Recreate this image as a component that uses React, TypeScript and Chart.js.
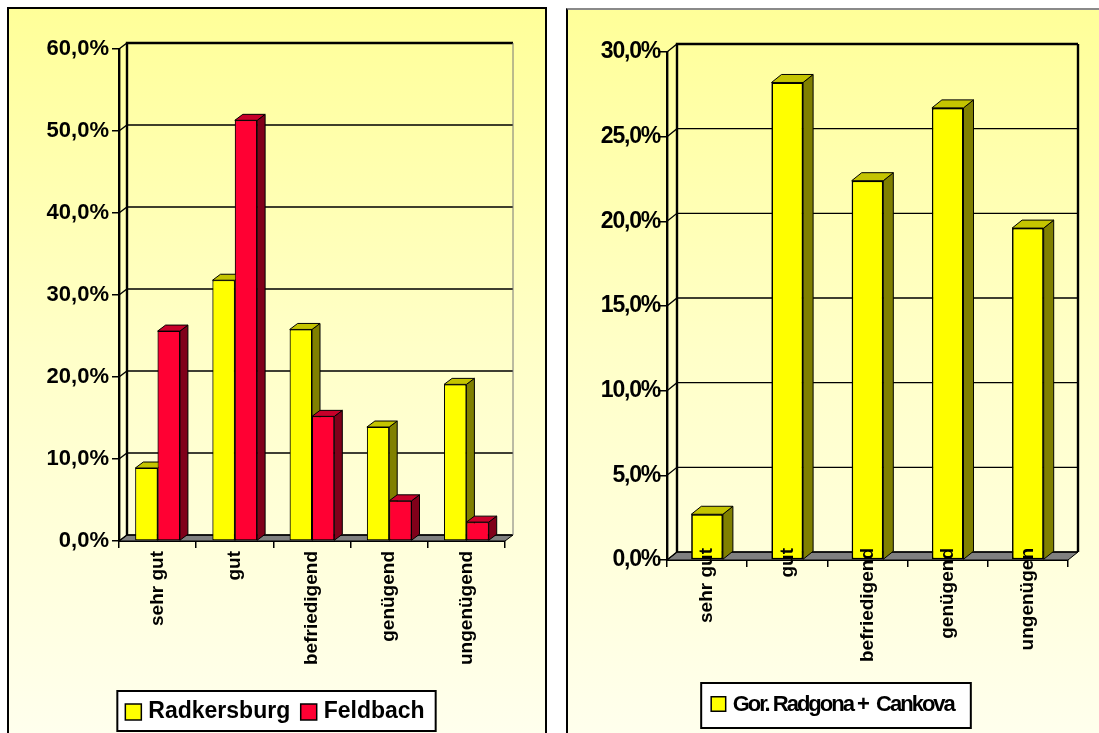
import { useEffect, useRef } from "react";
import { Chart, registerables } from "chart.js";

Chart.register(...registerables);

const FONT = "'Liberation Sans', Arial, Helvetica, sans-serif";

// Grade categories
const gradesAT = ["sehr gut", "gut", "befriedigend", "genügend", "ungenügend"];
const gradesSI = ["sehr gut", "gut", "befriedigend", "genügend", "ungenügen"];

// Shares per grade, in percent
const radkersburg = [8.9, 31.8, 25.8, 13.9, 19.1];
const feldbach = [25.6, 51.3, 15.2, 4.9, 2.3];
const radgonaCankova = [2.7, 28.2, 22.4, 26.7, 19.6];

// Value axes
const leftAxisMax = 60;
const leftAxisStep = 10;
const rightAxisMax = 30;
const rightAxisStep = 5;

const pct = (v: number) => Number(v).toFixed(1).replace(".", ",") + "%";

// Bar face colours: front / side / top
const YELLOW = { front: "#FFFF00", side: "#808000", top: "#C4C400" };
const RED = { front: "#FF0033", side: "#80001A", top: "#C8002A" };

function poly(ctx: CanvasRenderingContext2D, pts: number[][], fill: string) {
  ctx.beginPath();
  ctx.moveTo(pts[0][0], pts[0][1]);
  for (let i = 1; i < pts.length; i++) ctx.lineTo(pts[i][0], pts[i][1]);
  ctx.closePath();
  ctx.fillStyle = fill;
  ctx.fill();
  ctx.stroke();
}

// Draws the walls, the floor, the depth faces of every bar and the category labels
const depthPlugin = {
  id: "depth",
  beforeDraw(chart: any, _a: any, o: any) {
    chart.ctx.letterSpacing = `${o.tickSpacing || 0}px`;
  },
  beforeDatasetsDraw(chart: any, _a: any, o: any) {
    const { ctx, chartArea } = chart;
    const { left, right, top, bottom } = chartArea;
    const { dx, dy } = o;
    const ys = chart.scales.y;
    ctx.save();
    // floor
    ctx.strokeStyle = "#000";
    ctx.lineWidth = 1;
    poly(ctx, [[left, bottom], [right, bottom], [right + dx, bottom - dy], [left + dx, bottom - dy]], "#808080");
    // grid lines: slant over the side wall, then across the back wall
    ctx.lineWidth = 1.3;
    ys.ticks.forEach((t: any) => {
      const py = ys.getPixelForValue(t.value);
      ctx.beginPath();
      ctx.moveTo(left, py);
      ctx.lineTo(left + dx, py - dy);
      ctx.lineTo(right + dx, py - dy);
      ctx.stroke();
    });
    // back wall frame
    ctx.lineWidth = 2.4;
    ctx.beginPath();
    ctx.moveTo(left + dx, bottom - dy);
    ctx.lineTo(left + dx, top - dy);
    ctx.lineTo(right + dx, top - dy);
    ctx.stroke();
    ctx.strokeStyle = o.farEdgeColor;
    ctx.lineWidth = o.farEdgeWidth;
    ctx.beginPath();
    ctx.moveTo(right + dx, top - dy);
    ctx.lineTo(right + dx, bottom - dy);
    ctx.stroke();
    ctx.restore();
    chart.ctx.letterSpacing = "0px";
  },
  afterDatasetsDraw(chart: any, _a: any, o: any) {
    const { ctx } = chart;
    const { dx, dy } = o;
    ctx.save();
    chart.data.datasets.forEach((ds: any, i: number) => {
      const meta = chart.getDatasetMeta(i);
      meta.data.forEach((el: any) => {
        const { x, y, base, width } = el.getProps(["x", "y", "base", "width"], true);
        el.draw(ctx);
        const xl = x - width / 2;
        const xr = x + width / 2;
        ctx.strokeStyle = "#000";
        ctx.lineWidth = 1;
        poly(ctx, [[xr, y], [xr + dx, y - dy], [xr + dx, base - dy], [xr, base]], ds.sideColor);
        poly(ctx, [[xl, y], [xl + dx, y - dy], [xr + dx, y - dy], [xr, y]], ds.topColor);
      });
    });
    ctx.restore();
  },
  afterDraw(chart: any, _a: any, o: any) {
    // vertical category labels, reading upwards, ending near the floor edge
    const { ctx, chartArea } = chart;
    const xs = chart.scales.x;
    ctx.save();
    ctx.letterSpacing = "0px";
    ctx.font = `bold 19px ${FONT}`;
    ctx.fillStyle = "#000";
    ctx.textAlign = "right";
    ctx.textBaseline = "middle";
    chart.data.labels.forEach((lab: string, i: number) => {
      ctx.save();
      ctx.translate(xs.getPixelForValue(i), chartArea.bottom + o.labelOffset);
      ctx.rotate(-Math.PI / 2);
      ctx.fillText(lab, 0, 0);
      ctx.restore();
    });
    ctx.restore();
  },
};

// Framed legend below the plot
const boxLegendPlugin = {
  id: "boxLegend",
  afterDraw(chart: any, _a: any, o: any) {
    const { ctx } = chart;
    ctx.save();
    ctx.font = o.font;
    ctx.letterSpacing = `${o.spacing || 0}px`;
    ctx.textBaseline = "middle";
    ctx.textAlign = "left";
    const items = chart.data.datasets.map((ds: any) => ({
      text: ds.label,
      color: ds.backgroundColor,
      w: ctx.measureText(ds.label).width,
    }));
    const inner =
      items.reduce((s: number, it: any) => s + o.square + o.gap + it.w, 0) + o.itemGap * (items.length - 1);
    const total = o.padL + inner + o.padR;
    const x0 = o.cx - total / 2;
    ctx.fillStyle = "#fff";
    ctx.fillRect(x0, o.top, total, o.height);
    ctx.strokeStyle = "#000";
    ctx.lineWidth = 2;
    ctx.strokeRect(x0, o.top, total, o.height);
    const cy = o.top + o.height / 2;
    let x = x0 + o.padL;
    items.forEach((it: any) => {
      ctx.fillStyle = it.color;
      ctx.fillRect(x, cy + o.squareOff - o.square / 2, o.square, o.square);
      ctx.lineWidth = 1.5;
      ctx.strokeRect(x, cy + o.squareOff - o.square / 2, o.square, o.square);
      x += o.square + o.gap;
      ctx.fillStyle = "#000";
      ctx.fillText(it.text, x, cy + o.textOff);
      x += it.w + o.itemGap;
    });
    ctx.restore();
  },
};

function makeConfig(p: any): any {
  return {
    type: "bar",
    data: { labels: p.labels, datasets: p.datasets },
    plugins: [depthPlugin, boxLegendPlugin],
    options: {
      responsive: false,
      animation: false,
      devicePixelRatio: 1,
      layout: { padding: { left: 0, top: p.padTop, right: p.padRight, bottom: 0 } },
      datasets: { bar: { categoryPercentage: p.catPct, barPercentage: 1 } },
      plugins: {
        legend: { display: false },
        tooltip: { enabled: false },
        depth: {
          dx: p.dx,
          dy: p.dy,
          tickSpacing: p.tickSpacing,
          farEdgeColor: p.farEdgeColor,
          farEdgeWidth: p.farEdgeWidth,
          labelOffset: p.labelOffset,
        },
        boxLegend: p.legend,
      },
      scales: {
        x: {
          z: 1,
          grid: { offset: true, drawOnChartArea: false, drawTicks: true, tickLength: 7, color: "#000", lineWidth: 1.5 },
          border: { display: true, color: "#000", width: 2 },
          ticks: { display: false },
          afterFit: (s: any) => {
            s.height = p.xHeight;
          },
        },
        y: {
          min: 0,
          max: p.max,
          grid: { drawOnChartArea: false, drawTicks: true, tickLength: p.yTick, color: "#000", lineWidth: 1.5 },
          border: { display: true, color: "#000", width: 2.4 },
          ticks: {
            stepSize: p.step,
            padding: p.yPad,
            color: "#000",
            font: { family: FONT, size: p.yFont, weight: "bold" },
            callback: (v: any) => pct(v),
          },
          afterFit: (s: any) => {
            s.width = p.yWidth;
          },
        },
      },
    },
  };
}

const leftConfig = () =>
  makeConfig({
    labels: gradesAT,
    datasets: [
      { label: "Radkersburg", data: radkersburg, backgroundColor: YELLOW.front, sideColor: YELLOW.side, topColor: YELLOW.top, borderColor: "#000", borderWidth: 1, borderSkipped: false },
      { label: "Feldbach", data: feldbach, backgroundColor: RED.front, sideColor: RED.side, topColor: RED.top, borderColor: "#000", borderWidth: 1, borderSkipped: false },
    ],
    max: leftAxisMax,
    step: leftAxisStep,
    padTop: 49,
    padRight: 43,
    yWidth: 119,
    xHeight: 192,
    catPct: 0.578,
    dx: 8,
    dy: 6,
    labelOffset: 10,
    yTick: 7,
    yPad: 3,
    yFont: 22,
    tickSpacing: 0,
    farEdgeColor: "#777",
    farEdgeWidth: 1,
    legend: { cx: 276.5, top: 691, height: 40, padL: 8, padR: 11, square: 16, gap: 7, itemGap: 10.5, squareOff: 1, textOff: 1, font: `bold 23px ${FONT}`, spacing: 0 },
  });

const rightConfig = () =>
  makeConfig({
    labels: gradesSI,
    datasets: [
      { label: "Gor. Radgona +  Cankova", data: radgonaCankova, backgroundColor: YELLOW.front, sideColor: YELLOW.side, topColor: YELLOW.top, borderColor: "#000", borderWidth: 1.5, borderSkipped: false },
    ],
    max: rightAxisMax,
    step: rightAxisStep,
    padTop: 52,
    padRight: 31,
    yWidth: 107,
    xHeight: 173,
    catPct: 0.394,
    dx: 10,
    dy: 8,
    labelOffset: -12,
    yTick: 9,
    yPad: -2,
    yFont: 23,
    tickSpacing: -1.2,
    farEdgeColor: "#000",
    farEdgeWidth: 2.4,
    legend: { cx: 276, top: 683, height: 45, padL: 10, padR: 17, square: 14.5, gap: 7, itemGap: 10, squareOff: -1.5, textOff: -1, font: `bold 22px ${FONT}`, spacing: -2 },
  });

function ChartCanvas({ config, left, width }: { config: () => any; left: number; width: number }) {
  const ref = useRef<HTMLCanvasElement>(null);
  useEffect(() => {
    const chart = new Chart(ref.current as HTMLCanvasElement, config());
    return () => chart.destroy();
  }, []);
  return (
    <canvas
      ref={ref}
      width={width}
      height={733}
      style={{ position: "absolute", left, top: 0, width, height: 733 }}
    />
  );
}

const panelBg = "linear-gradient(to bottom, #FFFF99 0%, #FFFFC8 45%, #FFFFF0 100%)";

export default function App() {
  return (
    <div
      style={{
        position: "fixed",
        left: 0,
        top: 0,
        width: 1099,
        height: 733,
        overflow: "hidden",
        background: "#fff",
      }}
    >
      <div
        style={{
          position: "absolute",
          left: 7,
          top: 7,
          width: 540,
          height: 760,
          boxSizing: "border-box",
          border: "2px solid #000",
          background: panelBg,
        }}
      />
      <div
        style={{
          position: "absolute",
          left: 566,
          top: 8,
          width: 560,
          height: 760,
          boxSizing: "border-box",
          borderLeft: "2px solid #000",
          borderTop: "2px solid #8a8a8a",
          background: panelBg,
        }}
      />
      <ChartCanvas config={leftConfig} left={0} width={548} />
      <ChartCanvas config={rightConfig} left={560} width={539} />
    </div>
  );
}
